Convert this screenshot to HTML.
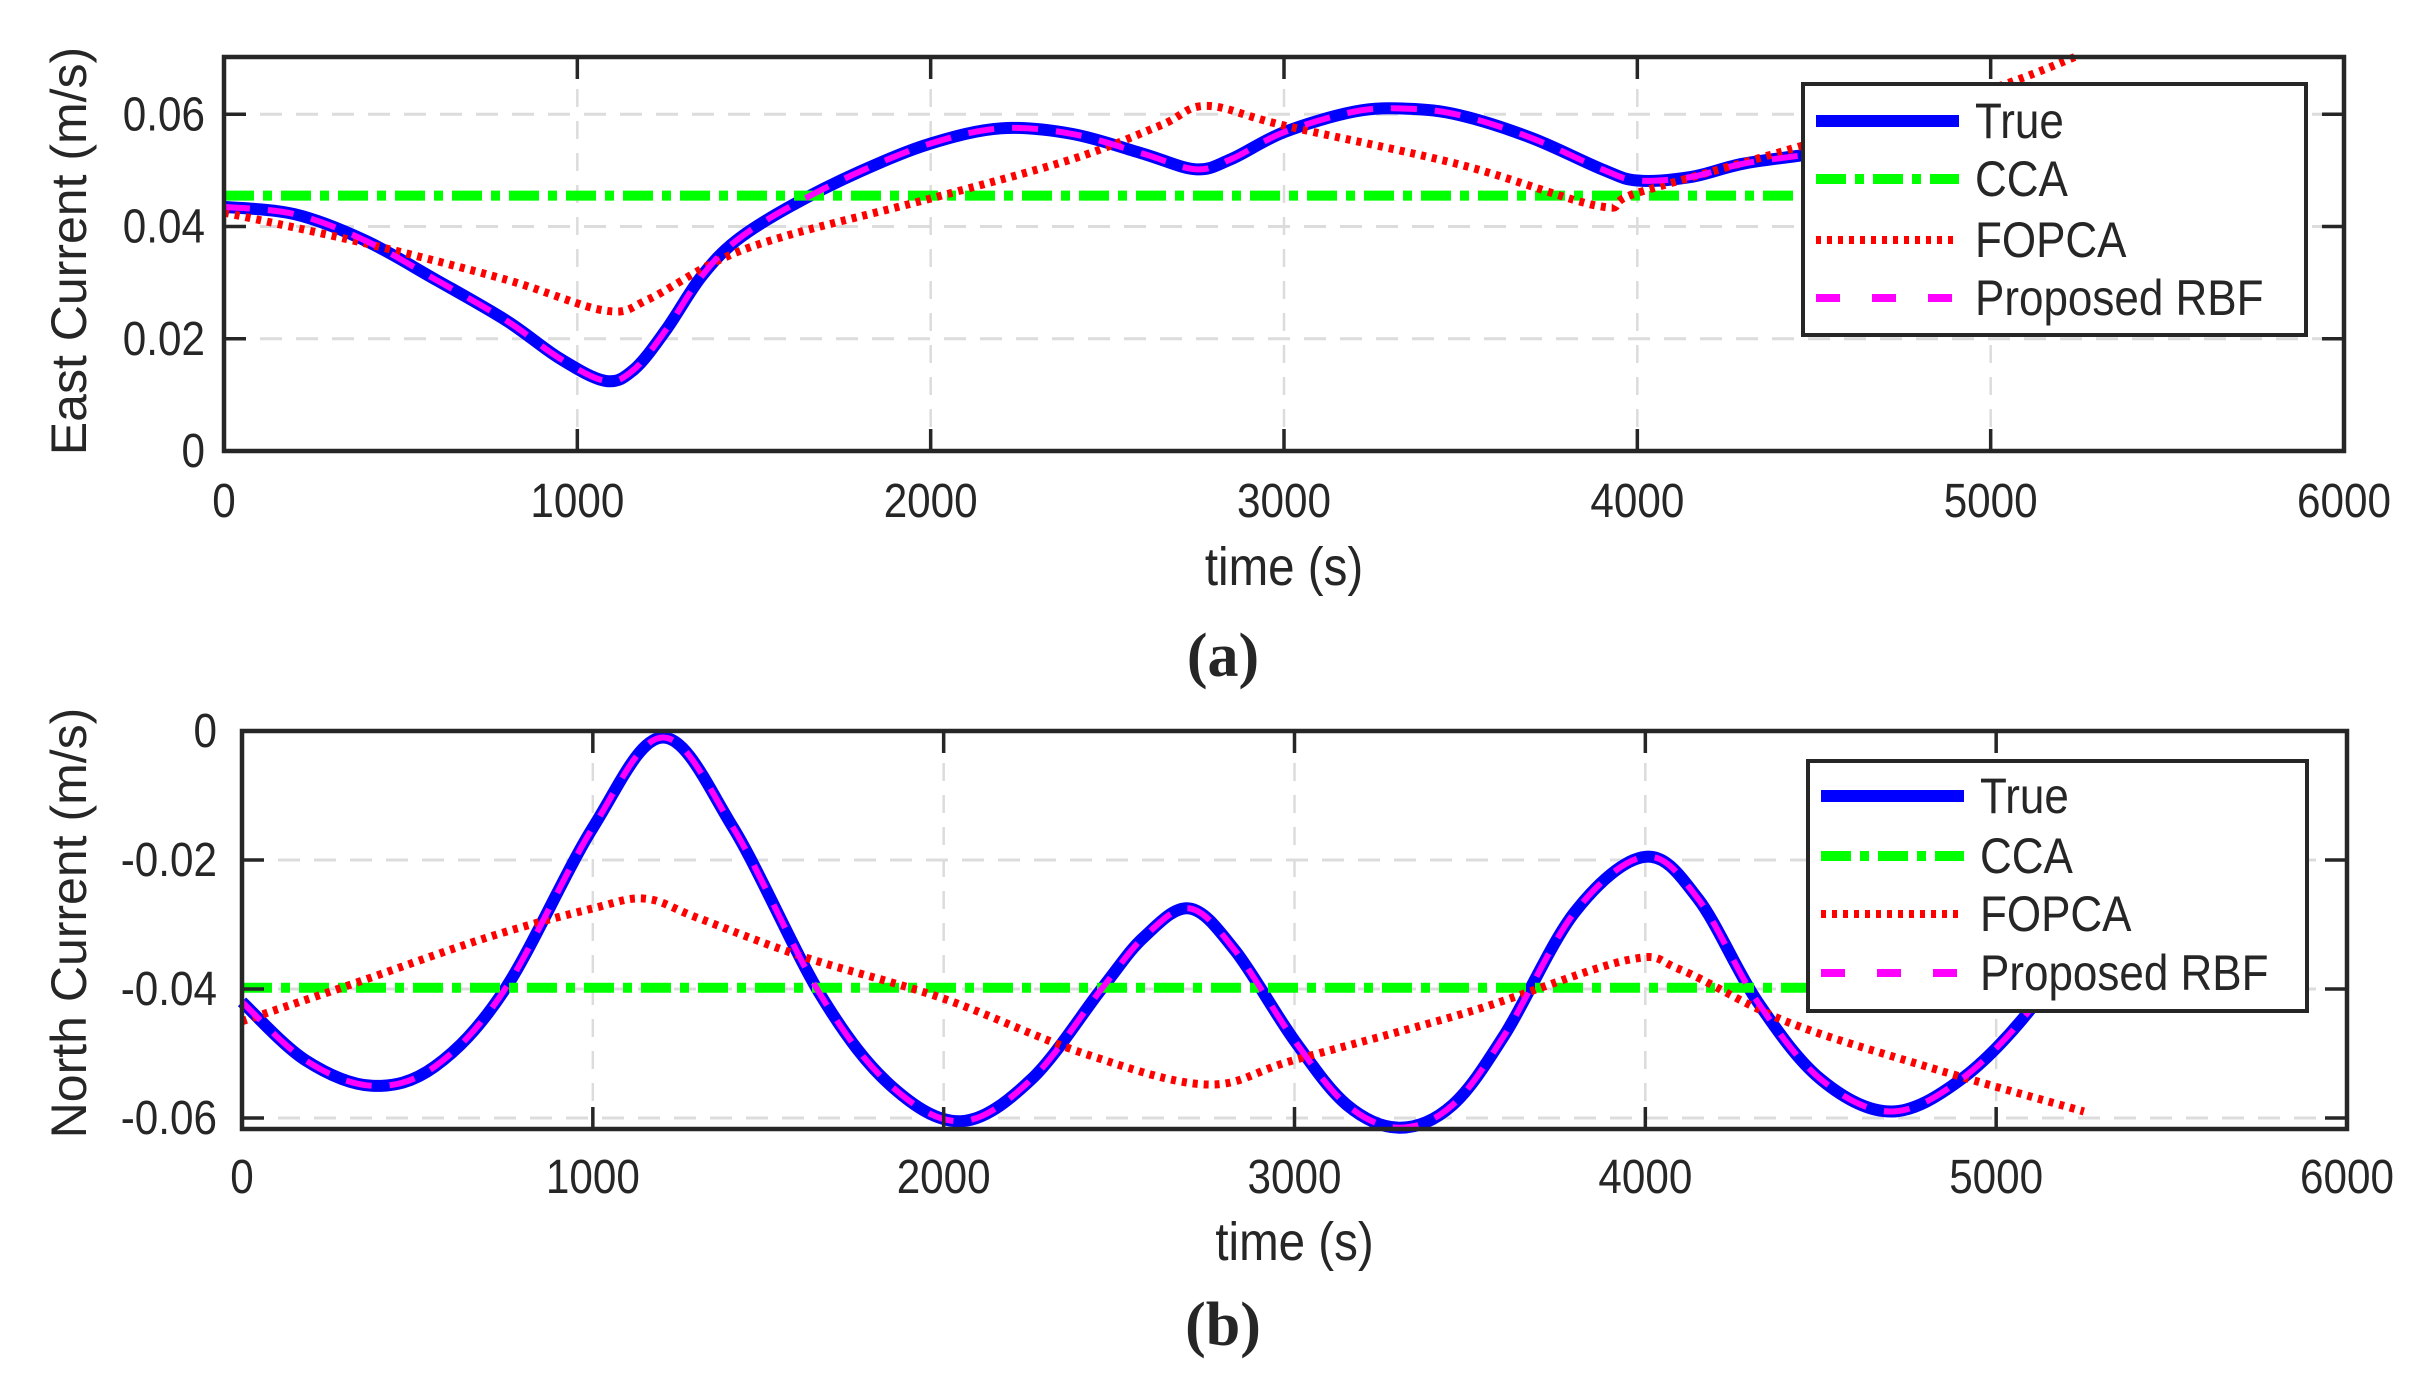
<!DOCTYPE html>
<html><head><meta charset="utf-8"><style>
html,body{margin:0;padding:0;background:#fff;}
svg{display:block;}
text{font-family:"Liberation Sans",Arial,sans-serif;fill:#262626;}
</style></head><body>
<svg id="s" width="2427" height="1392" viewBox="0 0 2427 1392" xmlns="http://www.w3.org/2000/svg">
<rect width="2427" height="1392" fill="#fff"/>
<g id="g"></g>
</svg>
<script>
var NS="http://www.w3.org/2000/svg",G=document.getElementById("g");
function el(t,a,txt){var e=document.createElementNS(NS,t);for(var k in a)e.setAttribute(k,a[k]);if(txt!=null)e.textContent=txt;G.appendChild(e);return e;}
function cr(pts){
 var d="M"+pts[0][0].toFixed(1)+","+pts[0][1].toFixed(1);
 for(var i=0;i<pts.length-1;i++){var p0=pts[i-1]||pts[i],p1=pts[i],p2=pts[i+1],p3=pts[i+2]||p2;
  var c1=[p1[0]+(p2[0]-p0[0])/6,p1[1]+(p2[1]-p0[1])/6],c2=[p2[0]-(p3[0]-p1[0])/6,p2[1]-(p3[1]-p1[1])/6];
  d+=" C"+c1[0].toFixed(1)+","+c1[1].toFixed(1)+" "+c2[0].toFixed(1)+","+c2[1].toFixed(1)+" "+p2[0].toFixed(1)+","+p2[1].toFixed(1);}
 return d;}
function txt(x,y,anchor,size,s,fill){
 return el("text",{x:0,y:0,"text-anchor":anchor,"font-size":size,fill:fill||"#262626",transform:"translate("+x+","+y+") scale(0.88,1)"},s);}
function panel(P){
 var X=function(t){return P.x0+t/6000*(P.x1-P.x0);},Y=P.Y;
 for(var t=1000;t<6000;t+=1000)el("line",{x1:X(t),x2:X(t),y1:P.y0,y2:P.y1,stroke:"#dcdcdc","stroke-width":2.5,"stroke-dasharray":"18 14"});
 P.yt.forEach(function(v){var y=Y(v);if(y>P.y0+3&&y<P.y1-3)el("line",{x1:P.x0,x2:P.x1,y1:y,y2:y,stroke:"#dcdcdc","stroke-width":3,"stroke-dasharray":"22 14"});});
 var mp=function(a){return a.map(function(p){return [X(p[0]),Y(p[1])];});};
 var tr=cr(mp(P.tru)),fo=cr(mp(P.fop));
 el("path",{d:tr,fill:"none",stroke:"#0000ff","stroke-width":12,"stroke-linejoin":"round"});
 el("line",{x1:P.x0,x2:X(5250),y1:Y(P.cca),y2:Y(P.cca),stroke:"#00ff00","stroke-width":10,"stroke-dasharray":"30 9 9 9"});
 el("path",{d:fo,fill:"none",stroke:"#ff0000","stroke-width":8,"stroke-dasharray":"5 6"});
 el("path",{d:tr,fill:"none",stroke:"#ff00ff","stroke-width":6,"stroke-dasharray":"26 18"});
 el("rect",{x:P.x0,y:P.y0,width:P.x1-P.x0,height:P.y1-P.y0,fill:"none",stroke:"#262626","stroke-width":4.5});
 for(var t=0;t<=6000;t+=1000){var x=X(t);
  el("line",{x1:x,x2:x,y1:P.y1,y2:P.y1-22,stroke:"#262626","stroke-width":3.5});
  el("line",{x1:x,x2:x,y1:P.y0,y2:P.y0+22,stroke:"#262626","stroke-width":3.5});
  txt(x,P.xly,"middle",48,String(t));}
 P.yt.forEach(function(v,i){var y=Y(v);
  el("line",{x1:P.x0,x2:P.x0+22,y1:y,y2:y,stroke:"#262626","stroke-width":3.5});
  el("line",{x1:P.x1,x2:P.x1-22,y1:y,y2:y,stroke:"#262626","stroke-width":3.5});
  txt(P.ylx,y+16,"end",48,P.yl[i]);});
 txt((P.x0+P.x1)/2,P.xlab,"middle",54,"time (s)");
 el("text",{x:0,y:0,"text-anchor":"middle","font-size":50,transform:"translate(86,"+P.ylc+") rotate(-90)"},P.ylab);
 var L=P.leg;
 el("rect",{x:L.x0,y:L.y0,width:L.x1-L.x0,height:L.y1-L.y0,fill:"#fff",stroke:"#262626","stroke-width":4});
 var sx0=L.x0+13,sx1=L.x0+156,tx=L.x0+172;
 el("line",{x1:sx0,x2:sx1,y1:L.e[0],y2:L.e[0],stroke:"#0000ff","stroke-width":12});
 el("line",{x1:sx0,x2:sx1,y1:L.e[1],y2:L.e[1],stroke:"#00ff00","stroke-width":10,"stroke-dasharray":"30 9 9 9"});
 el("line",{x1:sx0,x2:sx1,y1:L.e[2],y2:L.e[2],stroke:"#ff0000","stroke-width":8,"stroke-dasharray":"5 6"});
 el("line",{x1:sx0,x2:sx1,y1:L.e[3],y2:L.e[3],stroke:"#ff00ff","stroke-width":8,"stroke-dasharray":"24 32"});
 ["True","CCA","FOPCA","Proposed RBF"].forEach(function(s,i){txt(tx,L.e[i]+17,"start",50,s,"#000");});
}
panel({x0:224,x1:2344,y0:57,y1:451,Y:function(v){return 451-v*5612;},
 yt:[0,0.02,0.04,0.06],yl:["0","0.02","0.04","0.06"],ylx:205,xly:517,xlab:585,ylc:251,ylab:"East Current (m/s)",
 cca:0.0455,
 tru:[[0,0.0435],[200,0.0422],[400,0.0375],[600,0.0305],[800,0.0232],[950,0.0165],[1080,0.0125],[1160,0.0145],[1250,0.0215],[1350,0.031],[1450,0.0375],[1600,0.0435],[1800,0.0498],[2000,0.0548],[2200,0.0575],[2400,0.0565],[2600,0.053],[2750,0.0502],[2850,0.052],[3000,0.0568],[3200,0.0605],[3350,0.061],[3500,0.0598],[3700,0.0558],[3900,0.0502],[4000,0.0482],[4150,0.0488],[4300,0.0512],[4500,0.053],[4800,0.056],[5250,0.06]],
 fop:[[0,0.0425],[400,0.037],[800,0.0305],[1080,0.025],[1200,0.027],[1400,0.034],[1600,0.0385],[2000,0.045],[2400,0.052],[2650,0.058],[2780,0.0615],[3000,0.058],[3500,0.051],[3895,0.0436],[4000,0.046],[4500,0.055],[5000,0.0645],[5250,0.0705]],
 leg:{x0:1803,x1:2306,y0:84,y1:335,e:[121,179,240,298]}});
panel({x0:242,x1:2347,y0:731,y1:1129,Y:function(v){return 731-v*6450;},
 yt:[0,-0.02,-0.04,-0.06],yl:["0","-0.02","-0.04","-0.06"],ylx:217,xly:1193,xlab:1260,ylc:923,ylab:"North Current (m/s)",
 cca:-0.0398,
 tru:[[0,-0.042],[180,-0.051],[370,-0.055],[550,-0.052],[750,-0.04],[1000,-0.015],[1200,-0.001],[1400,-0.015],[1650,-0.041],[1850,-0.055],[2050,-0.0605],[2250,-0.054],[2450,-0.04],[2570,-0.032],[2700,-0.0275],[2830,-0.034],[3000,-0.048],[3150,-0.058],[3300,-0.0615],[3450,-0.058],[3600,-0.047],[3800,-0.028],[4000,-0.0195],[4150,-0.026],[4320,-0.042],[4500,-0.054],[4700,-0.059],[4900,-0.054],[5100,-0.043],[5250,-0.03]],
 fop:[[0,-0.045],[300,-0.0395],[700,-0.032],[1000,-0.0275],[1150,-0.026],[1300,-0.029],[1600,-0.035],[2000,-0.0415],[2400,-0.05],[2750,-0.0548],[3000,-0.051],[3500,-0.0435],[3950,-0.0355],[4100,-0.037],[4400,-0.045],[4800,-0.052],[5250,-0.059]],
 leg:{x0:1808,x1:2307,y0:761,y1:1011,e:[796,856,914,973]}});
el("text",{x:1223,y:676,"text-anchor":"middle","font-size":62,"font-weight":"bold",style:"font-family:'Liberation Serif',serif",fill:"#000"},"(a)");
el("text",{x:1223,y:1345,"text-anchor":"middle","font-size":62,"font-weight":"bold",style:"font-family:'Liberation Serif',serif",fill:"#000"},"(b)");
</script>
</body></html>
